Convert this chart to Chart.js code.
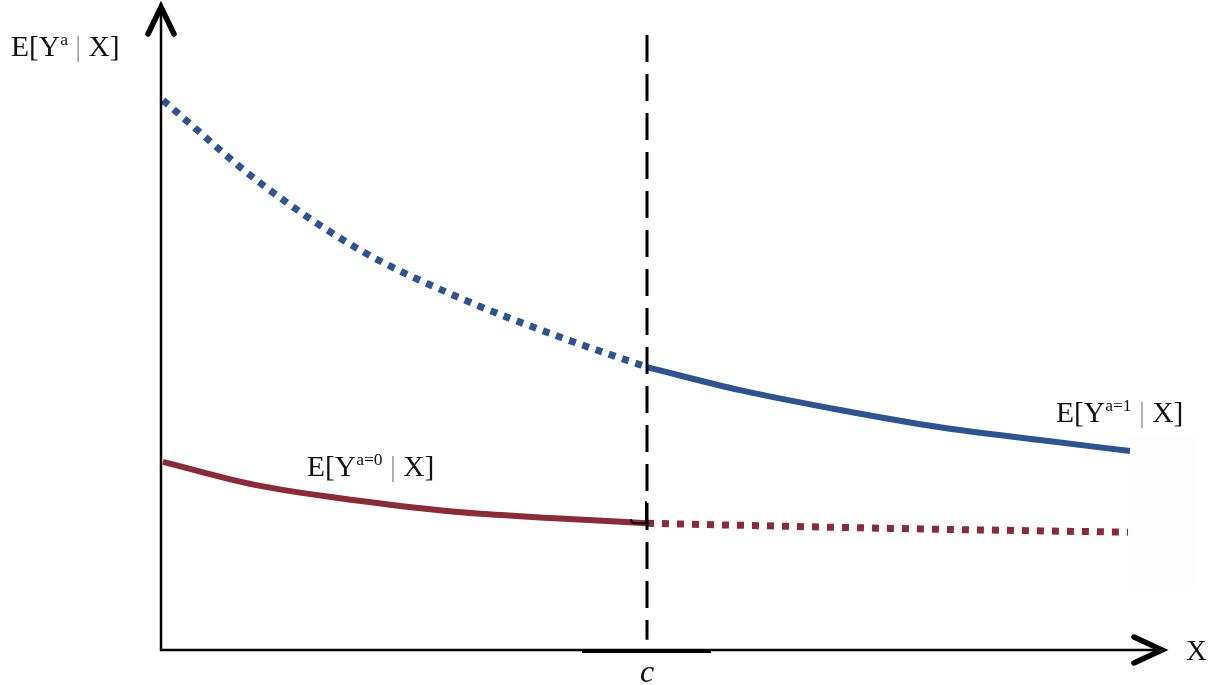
<!DOCTYPE html>
<html>
<head>
<meta charset="utf-8">
<title>Regression discontinuity: potential outcomes</title>
<script src="https://cdn.jsdelivr.net/npm/chart.js@4.4.1/dist/chart.umd.min.js"></script>
<style>
  html, body { margin: 0; padding: 0; background: #ffffff; }
  #wrap { width: 1215px; height: 685px; }
</style>
</head>
<body>
<div id="wrap"><canvas id="chart" width="1215" height="685"></canvas></div>
<script>
// Cutoff on the running variable X
const cutoff = 4.86;
// Band drawn under the x axis around the cutoff
const bandRange = [4.21, 5.50];
// Vertical cutoff line extent (drawn top to bottom)
const cutoffSpan = [9.61, 0.16];

// E[Y^{a=1} | X]: extrapolated part (left of c) and observed part (right of c)
const treatedLeftX  = [0.02, 0.99, 1.99, 2.99, 3.99, 4.86];
const treatedLeftY  = [8.59, 7.30, 6.25, 5.50, 4.89, 4.42];
const treatedRightX = [4.86, 5.79, 6.79, 7.79, 8.79, 9.69];
const treatedRightY = [4.42, 4.06, 3.75, 3.48, 3.28, 3.11];

// E[Y^{a=0} | X]: observed part (left of c) and extrapolated part (right of c)
const controlLeftX  = [0.02, 0.94, 1.94, 2.94, 3.94, 4.86];
const controlLeftY  = [2.94, 2.58, 2.34, 2.16, 2.06, 1.98];
const controlRightX = [4.86, 7.30, 9.67];
const controlRightY = [1.98, 1.90, 1.84];

const BLUE = '#2c5392';
const RED = '#8c2a37';
const INK = '#111111';
const SERIF = '"Liberation Serif", "DejaVu Serif", serif';

function pts(xs, ys) { return xs.map((x, i) => ({ x: x, y: ys[i] })); }

function lineSet(data, color, width, dash) {
  return {
    data: data,
    showLine: true,
    borderColor: color,
    backgroundColor: color,
    borderWidth: width,
    borderDash: dash,
    borderCapStyle: 'butt',
    cubicInterpolationMode: 'monotone',
    pointRadius: 0,
    clip: false
  };
}

// Draws a run of text pieces (with superscripts) starting at x, on baseline y
function drawRich(ctx, x, y, pieces) {
  let cx = x;
  pieces.forEach(p => {
    ctx.font = (p.italic ? 'italic ' : '') + p.size + 'px ' + SERIF;
    ctx.fillStyle = p.color || INK;
    ctx.fillText(p.t, cx, y - (p.rise || 0));
    cx += ctx.measureText(p.t).width;
  });
}

function outcomeLabel(sup) {
  return [
    { t: 'E[Y', size: 29.5 },
    { t: sup, size: 17.5, rise: 11 },
    { t: ' ', size: 29.5 },
    { t: '|', size: 29.5, color: '#9a9a9a' },
    { t: ' X]', size: 29.5 }
  ];
}

const decorations = {
  id: 'decorations',
  beforeDatasetsDraw(chart) {
    const ctx = chart.ctx;
    ctx.save();
    // faint panel behind the right end of the curves
    ctx.fillStyle = '#fdfdfd';
    ctx.fillRect(1128, 436, 68, 150);
    ctx.restore();
  },
  afterDatasetsDraw(chart) {
    const ctx = chart.ctx;
    const xs = chart.scales.x, ys = chart.scales.y;
    const x0 = xs.getPixelForValue(0), y0 = ys.getPixelForValue(0);
    const xEnd = xs.getPixelForValue(10), yTop = ys.getPixelForValue(10);
    ctx.save();
    ctx.strokeStyle = '#000';
    ctx.lineCap = 'butt';
    // axes
    ctx.lineWidth = 2.5;
    ctx.beginPath();
    ctx.moveTo(x0, y0 + 1);
    ctx.lineTo(x0, yTop - 2);
    ctx.moveTo(x0 - 1, y0);
    ctx.lineTo(xEnd - 1, y0);
    ctx.stroke();
    // arrow heads
    ctx.lineWidth = 5.5;
    ctx.lineCap = 'round';
    ctx.lineJoin = 'miter';
    ctx.beginPath();
    ctx.moveTo(x0 - 13, yTop + 24);
    ctx.lineTo(x0, yTop - 3);
    ctx.lineTo(x0 + 13, yTop + 24);
    ctx.stroke();
    ctx.beginPath();
    ctx.moveTo(xEnd - 27, y0 - 13);
    ctx.lineTo(xEnd + 1, y0);
    ctx.lineTo(xEnd - 27, y0 + 13);
    ctx.stroke();
    // band under the axis around the cutoff
    ctx.lineCap = 'butt';
    ctx.lineWidth = 4;
    ctx.beginPath();
    ctx.moveTo(xs.getPixelForValue(bandRange[0]), y0 + 1);
    ctx.lineTo(xs.getPixelForValue(bandRange[1]), y0 + 1);
    ctx.stroke();
    // small hook where the control curve meets the cutoff
    const cx = xs.getPixelForValue(cutoff);
    const cy = ys.getPixelForValue(controlLeftY[controlLeftY.length - 1]);
    ctx.lineWidth = 2;
    ctx.beginPath();
    ctx.moveTo(cx - 1, cy - 22);
    ctx.lineTo(cx - 1, cy);
    ctx.lineTo(cx - 13, cy);
    ctx.quadraticCurveTo(cx - 16, cy - 1, cx - 16, cy - 4);
    ctx.stroke();

    // labels
    ctx.textBaseline = 'alphabetic';
    ctx.textAlign = 'left';
    drawRich(ctx, 11, 56, outcomeLabel('a'));
    drawRich(ctx, 307, 476, outcomeLabel('a=0'));
    drawRich(ctx, 1056, 422, outcomeLabel('a=1'));
    drawRich(ctx, 1186, 660, [{ t: 'X', size: 29 }]);
    ctx.textAlign = 'center';
    ctx.font = 'italic 32px ' + SERIF;
    ctx.fillStyle = INK;
    ctx.fillText('c', cx, 682);
    ctx.restore();
  }
};

const cutoffLine = {
  data: [{ x: cutoff, y: cutoffSpan[0] }, { x: cutoff, y: cutoffSpan[1] }],
  showLine: true,
  borderColor: '#000',
  borderWidth: 3,
  borderDash: [27, 12],
  pointRadius: 0,
  clip: false
};

new Chart(document.getElementById('chart'), {
  type: 'scatter',
  data: {
    datasets: [
      cutoffLine,
      lineSet(pts(treatedLeftX, treatedLeftY), BLUE, 7, [7, 7]),
      lineSet(pts(treatedRightX, treatedRightY), BLUE, 6, []),
      lineSet(pts(controlLeftX, controlLeftY), RED, 6, []),
      lineSet(pts(controlRightX, controlRightY), RED, 7, [7, 8])
    ]
  },
  options: {
    responsive: false,
    animation: false,
    events: [],
    layout: { padding: { left: 161, right: 54, top: 10, bottom: 35 } },
    plugins: { legend: { display: false }, tooltip: { enabled: false } },
    scales: {
      x: { type: 'linear', min: 0, max: 10, display: false },
      y: { type: 'linear', min: 0, max: 10, display: false }
    }
  },
  plugins: [decorations]
});
</script>
</body>
</html>
